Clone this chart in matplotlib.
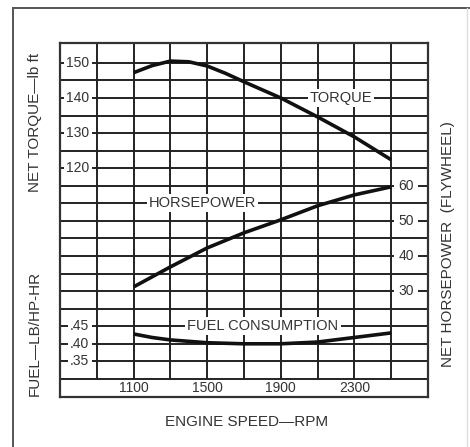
import matplotlib
matplotlib.use("Agg")
import matplotlib.pyplot as plt
from matplotlib.lines import Line2D

plt.rcParams['font.family'] = ['Liberation Sans', 'DejaVu Sans']

# ---- data ----
torque_rpm = [1100, 1200, 1300, 1400, 1500, 1600, 1700, 1900, 2100, 2300, 2500]
torque_lbft = [147.2, 149.2, 150.5, 150.3, 149.1, 147.0, 144.6, 140.0, 134.6, 128.9, 122.4]

hp_rpm = [1100, 1300, 1500, 1700, 1900, 2100, 2300, 2500]
hp_values = [31.2, 36.9, 42.3, 46.6, 50.3, 54.3, 57.4, 59.7]

fuel_rpm = [1100, 1200, 1300, 1500, 1700, 1900, 2100, 2300, 2500]
fuel_values = [0.428, 0.418, 0.411, 0.403, 0.400, 0.400, 0.405, 0.418, 0.431]

x_ticks = [1100, 1500, 1900, 2300]
torque_ticks = [150, 140, 130, 120]
hp_ticks = [60, 50, 40, 30]
fuel_ticks = [0.45, 0.40, 0.35]
fuel_tick_labels = ['.45', '.40', '.35']

# ---- figure ----
W, H = 470, 447
fig = plt.figure(figsize=(W / 100, H / 100), dpi=100)
fig.patch.set_facecolor('white')

ink = '#222222'

# outer frame
fig.add_artist(Line2D([13 / W, 13 / W], [0, 1 - 8 / H], transform=fig.transFigure, color='#555555', lw=1.4))
fig.add_artist(Line2D([13 / W, 1], [1 - 8 / H, 1 - 8 / H], transform=fig.transFigure, color='#555555', lw=1.4))
fig.add_artist(Line2D([467 / W, 467 / W], [0, 1 - 8 / H], transform=fig.transFigure, color='#dddddd', lw=1.0))

box_l, box_r, box_t, box_b = 60, 428, 43, 397
ax = fig.add_axes([box_l / W, 1 - box_b / H, (box_r - box_l) / W, (box_b - box_t) / H])

# scales: each row of the grid = 5 lb-ft = 5 hp = 0.05 lb/hp-hr
T_LO, T_HI = 54.85, 155.65
ax.set_xlim(700, 2700)
ax.set_ylim(T_LO, T_HI)
ax_hp = ax.twinx()
ax_hp.set_ylim(T_LO - 55, T_HI - 55)
ax_fuel = ax.twinx()
ax_fuel.set_ylim(0.35 + (T_LO - 65) / 100, 0.35 + (T_HI - 65) / 100)

for a in (ax, ax_hp, ax_fuel):
    a.set_xticks([])
    a.set_yticks([])
for a in (ax_hp, ax_fuel):
    for s in a.spines.values():
        s.set_visible(False)
for s in ax.spines.values():
    s.set_linewidth(1.6)
    s.set_color('#333333')

# grid
grid_rows = [60 + 5 * k for k in range(19)]
ax.hlines(grid_rows, 700, 2700, color=ink, lw=1.4, zorder=1)
ax.vlines(list(range(900, 2600, 200)), 60, T_HI, color=ink, lw=1.4, zorder=1)

# curves
ax.plot(torque_rpm, torque_lbft, color='#111111', lw=2.6, solid_capstyle='butt', zorder=3)
ax_hp.plot(hp_rpm, hp_values, color='#111111', lw=2.6, solid_capstyle='butt', zorder=3)
ax_fuel.plot(fuel_rpm, fuel_values, color='#111111', lw=2.6, solid_capstyle='butt', zorder=3)

fs = 10
tc = '#333333'
bb = dict(facecolor='white', edgecolor='none', pad=1.5)

for v in torque_ticks:
    ax.text(860, v, str(v), ha='right', va='center', fontsize=fs, color=tc, bbox=bb, zorder=4)
for v, lab in zip(fuel_ticks, fuel_tick_labels):
    ax_fuel.text(860, v, lab, ha='right', va='center', fontsize=fs, color=tc, bbox=bb, zorder=4)
for v in hp_ticks:
    ax_hp.text(2580, v, str(v), ha='center', va='center', fontsize=fs, color=tc,
               bbox=dict(facecolor='white', edgecolor='none', pad=3), zorder=4)
for v in x_ticks:
    ax.text(v, 57.4, str(v), ha='center', va='center', fontsize=fs, color=tc, zorder=4)

# curve labels
ax.text(2227, 140, 'TORQUE', ha='center', va='center', fontsize=10.5, color=tc, bbox=bb, zorder=4)
ax_hp.text(1474, 55, 'HORSEPOWER', ha='center', va='center', fontsize=10.5, color=tc, bbox=bb, zorder=4)
ax_fuel.text(1803, 0.45, 'FUEL CONSUMPTION', ha='center', va='center', fontsize=10.5, color=tc, bbox=bb, zorder=4)

# axis titles
fig.text(35 / W, 1 - 122 / H, 'NET TORQUE—lb ft', rotation=90, ha='center', va='center', fontsize=11, color=tc)
fig.text(35 / W, 1 - 333 / H, 'FUEL—LB/HP-HR', rotation=90, ha='center', va='center', fontsize=11, color=tc)
fig.text(448 / W, 1 - 244 / H, 'NET HORSEPOWER  (FLYWHEEL)', rotation=90, ha='center', va='center', fontsize=11, color=tc)
fig.text(247 / W, 1 - 422 / H, 'ENGINE SPEED—RPM', ha='center', va='center', fontsize=11, color=tc)

fig.savefig('out.png', dpi=100)
